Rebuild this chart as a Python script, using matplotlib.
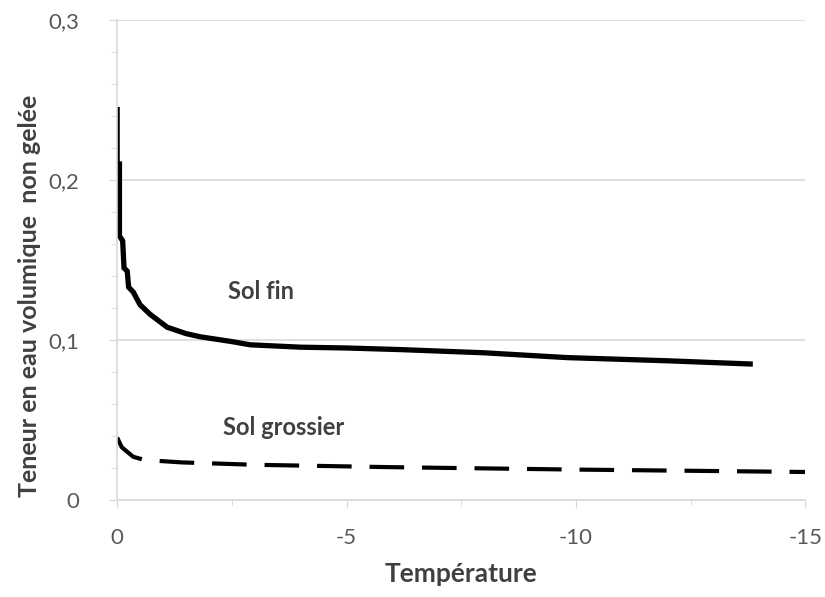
import matplotlib.pyplot as plt
from matplotlib.ticker import MultipleLocator, FuncFormatter

plt.rcParams['font.family'] = ['Lato', 'DejaVu Sans']

# Sol fin (solid curve)
t_fin = [0, 0, -0.05, -0.05, -0.12, -0.15, -0.22, -0.25, -0.35, -0.5, -0.72,
         -1.09, -1.5, -1.81, -2.5, -2.9, -4.0, -5.0, -6.17, -8.0, -9.8, -12.0, -13.8]
v_fin = [0.244, 0.21, 0.21, 0.165, 0.162, 0.145, 0.143, 0.133, 0.13, 0.122, 0.116,
         0.108, 0.104, 0.102, 0.099, 0.097, 0.0955, 0.095, 0.094, 0.092, 0.089, 0.087, 0.085]

# Sol grossier (dashed curve)
t_gros = [0, -0.1, -0.35, -0.6, -1.4, -3.0, -6.0, -10.0, -15.0]
v_gros = [0.039, 0.033, 0.027, 0.025, 0.0235, 0.022, 0.0205, 0.019, 0.0175]

gray = '#595959'
dark = '#404040'
light = '#d9d9d9'

fig = plt.figure(figsize=(8.25, 5.97), dpi=100)
ax = fig.add_axes([0.142, 0.1625, 0.834, 0.804])

ax.plot(t_fin, v_fin, color='black', lw=3.8, solid_joinstyle='miter')
ax.plot(t_gros, v_gros, color='black', lw=3.0, dashes=(8.3, 4.3), dash_capstyle='butt')

ax.text(-3.14, 0.13, 'Sol fin', fontsize=17, fontweight='bold', color=dark,
        ha='center', va='center')
ax.text(-3.64, 0.045, 'Sol grossier', fontsize=17, fontweight='bold', color=dark,
        ha='center', va='center')

ax.set_xlim(0, -15)
ax.set_ylim(0, 0.3)
ax.xaxis.set_major_locator(MultipleLocator(5))
ax.xaxis.set_minor_locator(MultipleLocator(2.5))
ax.yaxis.set_major_locator(MultipleLocator(0.1))
ax.yaxis.set_minor_locator(MultipleLocator(0.02))

fmt = FuncFormatter(lambda v, p: ('%g' % round(v, 2)).replace('.', ','))
ax.xaxis.set_major_formatter(fmt)
ax.yaxis.set_major_formatter(fmt)

ax.grid(axis='y', which='major', color=light, lw=1.2)
ax.set_axisbelow(True)
for s in ['top', 'right']:
    ax.spines[s].set_visible(False)
for s in ['left', 'bottom']:
    ax.spines[s].set_color(light)
    ax.spines[s].set_linewidth(1.2)

ax.tick_params(which='both', color=light, labelcolor=gray, labelsize=16)
ax.tick_params(which='major', length=6)
ax.tick_params(which='minor', length=4)
ax.tick_params(axis='y', pad=21)
ax.tick_params(axis='x', pad=14)

ax.set_xlabel('Température', fontsize=19, fontweight='bold', color=dark, labelpad=10)
ax.set_ylabel('Teneur en eau volumique  non gelée', fontsize=18, fontweight='bold',
              color=dark)
ax.yaxis.set_label_coords(-0.11, 0.425)

fig.savefig('out.png', dpi=100)
